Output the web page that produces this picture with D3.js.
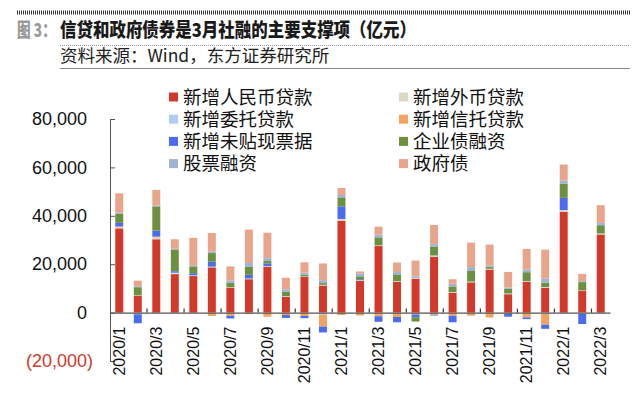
<!DOCTYPE html>
<html>
<head>
<meta charset="utf-8">
<script src="https://cdn.jsdelivr.net/npm/d3@7"></script>
<style>
  body { margin: 0; background: #fff; }
  svg { display: block; }
</style>
</head>
<body>
<div id="chart"></div>
<script>
// Monthly data, 100 million yuan
const months = [
  '2020/1', '2020/2', '2020/3', '2020/4', '2020/5', '2020/6', '2020/7', '2020/8', '2020/9',
  '2020/10', '2020/11', '2020/12', '2021/1', '2021/2', '2021/3', '2021/4', '2021/5', '2021/6',
  '2021/7', '2021/8', '2021/9', '2021/10', '2021/11', '2021/12', '2022/1', '2022/2', '2022/3'
];
const rmbLoans =       [34800, 6900, 30300, 15900, 15100, 18700, 10300, 13800, 18900, 6500, 14800, 11200, 38000, 13100, 27500, 12700, 14000, 23100, 8200, 12500, 17800, 7600, 12700, 10300, 41700, 8900, 32300];
const fxLoans =        [300, 200, 800, 400, 300, 300, 200, 300, 300, 300, 200, 300, 700, 300, 300, 300, 300, 500, 300, 300, 300, 300, 300, 300, 700, -500, 400];
const entrustedLoans = [100, -400, 0, 200, 0, 0, 0, 0, 0, 0, 0, -800, 0, 0, 0, 0, 0, 0, 0, 0, 0, 0, 0, -500, 0, 0, 0];
const trustLoans =     [400, -300, 300, 0, 0, -1400, -1300, -600, -1700, -1000, -1400, -5000, -1000, -1200, -1500, -1800, -800, -900, -1300, -1300, -2000, -500, -2000, -4500, 0, 300, 0];
const bills =          [1500, -3700, 2500, 600, 900, 2000, -1100, 1500, 1100, -1200, -900, -2400, 5200, 400, -2300, -2200, -1100, -300, -2700, 0, 0, -1200, -700, -1700, 5000, -4200, 0];
const corpBonds =      [3700, 3400, 10000, 9000, 2800, 3600, 1700, 3300, 1000, 1800, 700, 700, 3700, 1200, 3300, 2800, -1800, 3700, 2300, 4400, 700, 1900, 3700, 1800, 5800, 3400, 3400];
const equity =         [500, 400, 300, 300, 500, 700, 1100, 1600, 1200, 1000, 800, 1200, 1000, 1200, 1100, 1000, 700, 1000, 1100, 1600, 600, 500, 1100, 1600, 1400, 400, 1000];
const govBonds =       [8000, 2300, 6500, 3900, 11300, 7600, 5800, 13800, 10500, 4800, 4300, 6900, 2900, 800, 3300, 3900, 6500, 7900, 1900, 10100, 8700, 6500, 8500, 12000, 6600, 3000, 7300];

const seriesNames = ['新增人民币贷款', '新增外币贷款', '新增委托贷款', '新增信托贷款',
  '新增未贴现票据', '企业债融资', '股票融资', '政府债'];
const seriesValues = [rmbLoans, fxLoans, entrustedLoans, trustLoans, bills, corpBonds, equity, govBonds];
const colors = ['#d1392b', '#ddd8c2', '#b3cbf3', '#f2a262', '#4c6cf0', '#6d8f40', '#a0b3d2', '#e8a58b'];
const yTicks = [-20000, 0, 20000, 40000, 60000, 80000];

const table = months.map((m, i) => {
  const row = { month: m };
  seriesNames.forEach((s, k) => { row[s] = seriesValues[k][i]; });
  return row;
});

const W = 640, H = 396;
const svg = d3.select('#chart').append('svg')
  .attr('width', W)
  .attr('height', H)
  .style('font-family', '"Liberation Sans", Arial, sans-serif');

// Header
svg.append('line')
  .attr('x1', 17).attr('x2', 630).attr('y1', 12.5).attr('y2', 12.5)
  .attr('stroke', '#333').attr('stroke-width', 4).attr('stroke-dasharray', '1,1');

const title = svg.append('g')
  .style('font-family', '"Noto Sans CJK SC", sans-serif')
  .style('font-size', '19px')
  .style('font-weight', '900');
title.append('text')
  .attr('transform', 'translate(17,37) scale(0.72,1)')
  .attr('fill', '#9a9a9a')
  .text('图 3：');
title.append('text')
  .attr('x', 60).attr('y', 37)
  .attr('fill', '#1a1a1a')
  .attr('textLength', 356)
  .attr('lengthAdjust', 'spacingAndGlyphs')
  .text('信贷和政府债券是3月社融的主要支撑项（亿元）');

svg.append('line')
  .attr('x1', 60).attr('x2', 630).attr('y1', 45.5).attr('y2', 45.5)
  .attr('stroke', '#999').attr('stroke-dasharray', '1,1');

svg.append('text')
  .attr('x', 60).attr('y', 62)
  .style('font-family', '"Noto Sans CJK SC", sans-serif')
  .style('font-size', '17.5px')
  .attr('fill', '#222')
  .text('资料来源：Wind，东方证券研究所');

svg.append('line')
  .attr('x1', 60).attr('x2', 630).attr('y1', 68.5).attr('y2', 68.5)
  .attr('stroke', '#888').attr('stroke-width', 1.2);

// Scales
const x = d3.scaleBand()
  .domain(months)
  .range([110, 610])
  .paddingInner(0.57)
  .paddingOuter(0.285);

const y = d3.scaleLinear()
  .domain([-20000, 80000])
  .range([361, 119]);

const stacked = d3.stack()
  .keys(seriesNames)
  .offset(d3.stackOffsetDiverging)(table);

// Bars
svg.append('g')
  .selectAll('g')
  .data(stacked)
  .join('g')
  .attr('fill', (d, i) => colors[i])
  .selectAll('rect')
  .data(d => d)
  .join('rect')
  .attr('x', d => x(d.data.month))
  .attr('width', x.bandwidth())
  .attr('y', d => Math.min(y(d[0]), y(d[1])))
  .attr('height', d => Math.abs(y(d[0]) - y(d[1])));

// Y axis
const fmt = d3.format(',');
const yAxis = svg.append('g')
  .attr('transform', 'translate(110,0)')
  .call(d3.axisLeft(y)
    .tickValues(yTicks)
    .tickSizeInner(-5)
    .tickSizeOuter(0)
    .tickPadding(23)
    .tickFormat(d => d < 0 ? `(${fmt(-d)})` : fmt(d)));
yAxis.select('.domain').attr('stroke', '#555');
yAxis.selectAll('.tick line').attr('stroke', '#555');
yAxis.selectAll('.tick text')
  .style('font-size', '18px')
  .style('font-family', '"Liberation Sans", Arial, sans-serif')
  .attr('fill', d => d < 0 ? '#d1392b' : '#111');
// negative label hangs its closing bracket past the digits
yAxis.selectAll('.tick text').filter(d => d < 0).attr('x', -17);

// X axis along zero
const y0 = y(0);
const xAxis = svg.append('g')
  .attr('transform', `translate(0,${y0})`)
  .call(d3.axisBottom(x)
    .tickValues(months.filter((m, i) => i % 2 === 0))
    .tickSize(0)
    .tickPadding(14));
xAxis.select('.domain').attr('stroke', '#555').attr('stroke-width', 1.3);
xAxis.selectAll('.tick text')
  .attr('transform', 'rotate(-90)')
  .attr('x', -14)
  .attr('y', 0)
  .attr('dy', '0.35em')
  .style('text-anchor', 'end')
  .style('font-size', '16px')
  .style('font-family', '"Liberation Sans", Arial, sans-serif')
  .attr('fill', '#111');

// Small category separators every two months
const boundaries = d3.range(2, months.length + 1, 2);
svg.append('g')
  .selectAll('line')
  .data(boundaries)
  .join('line')
  .attr('x1', k => x.range()[0] + k * x.step())
  .attr('x2', k => x.range()[0] + k * x.step())
  .attr('y1', y0)
  .attr('y2', y0 - 4)
  .attr('stroke', '#333')
  .attr('stroke-width', 1.2);

// Legend
const legend = svg.append('g')
  .style('font-family', '"Noto Sans CJK SC", sans-serif')
  .style('font-size', '18.5px');
const colX = [169, 399];
seriesNames.forEach((name, i) => {
  const cx = colX[i % 2];
  const cy = 97 + Math.floor(i / 2) * 22.2;
  legend.append('rect')
    .attr('x', cx).attr('y', cy - 4.5)
    .attr('width', 9).attr('height', 9)
    .attr('fill', colors[i]);
  legend.append('text')
    .attr('x', cx + 14).attr('y', cy)
    .attr('dy', '0.36em')
    .attr('fill', '#111')
    .text(name);
});
</script>
</body>
</html>
